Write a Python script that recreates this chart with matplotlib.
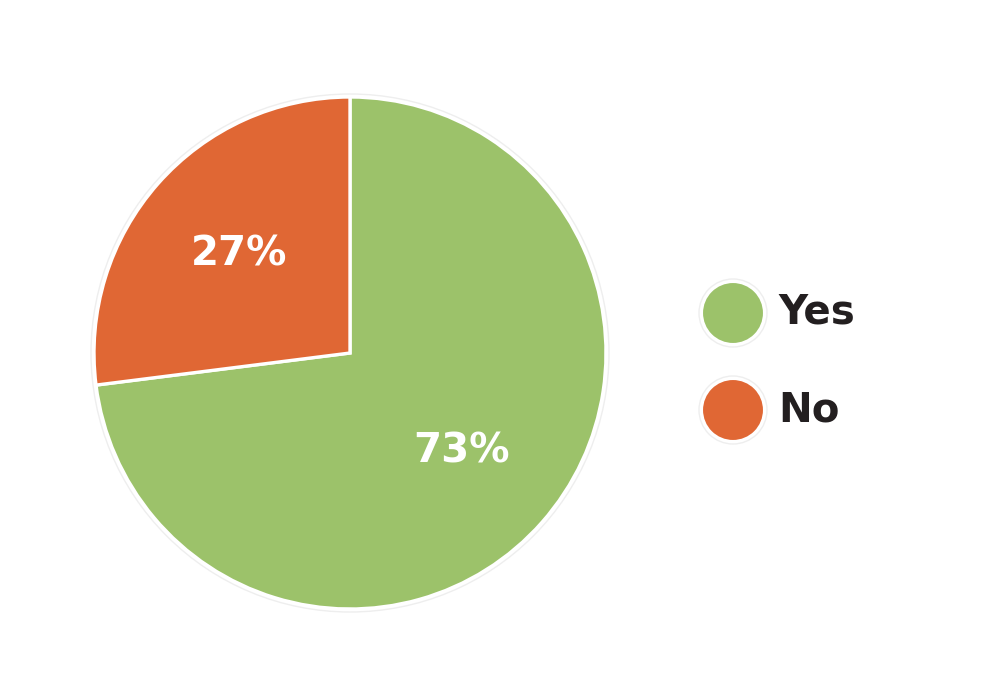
import matplotlib
matplotlib.use('Agg')

import matplotlib.pyplot as plt
from matplotlib.patches import Circle

labels = ['Yes', 'No']
values = [73, 27]
colors = ['#9CC26A', '#E06734']

fig = plt.figure(figsize=(10, 6.78), dpi=100)
ax = fig.add_axes([0, 0, 1, 1])
ax.set_xlim(0, 1000)
ax.set_ylim(0, 678)
ax.set_aspect('equal')
ax.set_axis_off()

# pie in pixel-like coords
cx, cy, r = 350, 325, 256
ax.add_patch(Circle((cx, cy), r + 3, facecolor='none', edgecolor='#eeeeee', lw=1.0))
wedges, texts, autotexts = ax.pie(
    values, colors=colors, startangle=90, counterclock=False,
    center=(cx, cy), radius=r, autopct='%d%%', pctdistance=0.58,
    wedgeprops=dict(edgecolor='white', linewidth=2.4),
    textprops=dict(color='white', fontsize=29, fontweight='bold', family='DejaVu Sans'))
ax.set_xlim(0, 1000)
ax.set_ylim(0, 678)

# legend drawn by hand
for i, (lab, col) in enumerate(zip(labels, colors)):
    y = 365 - i * 97
    ax.add_patch(Circle((733, y), 34, facecolor='none', edgecolor='#eeeeee', lw=1.0))
    ax.add_patch(Circle((733, y), 31, facecolor=col, edgecolor='white', lw=1.5))
    ax.text(778, y, lab, fontsize=29, fontweight='bold', family='DejaVu Sans',
            color='#231F20', va='center', ha='left')

fig.savefig('out.png', dpi=100, facecolor='white')
